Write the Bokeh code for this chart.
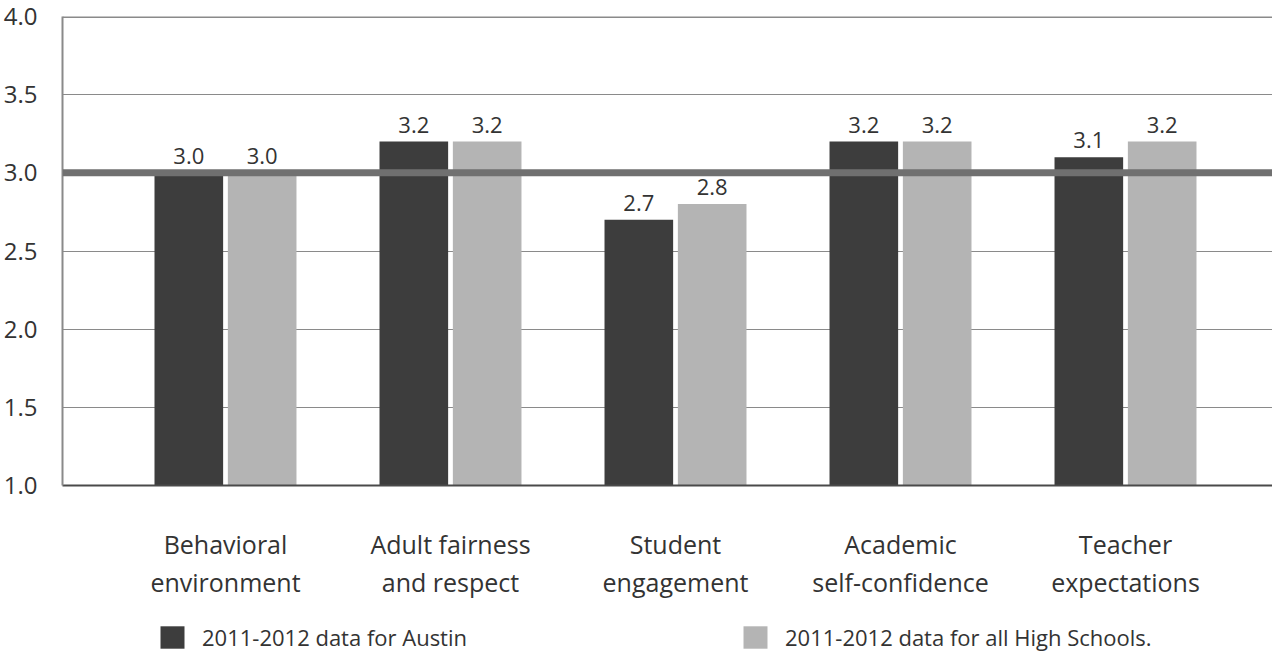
import numpy as np
from bokeh.plotting import figure
from bokeh.layouts import column
from bokeh.models import (ColumnDataSource, FixedTicker, Span, Legend, LegendItem,
                          NumeralTickFormatter)
from bokeh.core.properties import value
from bokeh.transform import dodge
from bokeh.embed import file_html
from bokeh.resources import INLINE

categories = ["Behavioral\nenvironment", "Adult fairness\nand respect", "Student\nengagement",
              "Academic\nself-confidence", "Teacher\nexpectations"]
austin = [3.0, 3.2, 2.7, 3.2, 3.1]
all_hs = [3.0, 3.2, 2.8, 3.2, 3.2]
austin_labels = ["3.0", "3.2", "2.7", "3.2", "3.1"]
all_hs_labels = ["3.0", "3.2", "2.8", "3.2", "3.2"]
y_ticks = [1.0, 1.5, 2.0, 2.5, 3.0, 3.5, 4.0]
reference_value = 3.0
series_names = ["2011-2012 data for Austin", "2011-2012 data for all High Schools."]

FONT = "Open Sans"
DARK = "#3d3d3d"
LIGHT = "#b4b4b4"
TXT = "#333333"

idx = list(range(len(categories)))
src = ColumnDataSource(dict(x=idx, austin=austin, all_hs=all_hs,
                            al=austin_labels, hl=all_hs_labels))

p = figure(frame_width=1210, frame_height=469, output_backend="svg", toolbar_location=None,
           x_range=(-0.7244, 4.6533), y_range=(1.0, 4.0),
           min_border_left=62, min_border_top=16, min_border_right=0, min_border_bottom=135)

off = 0.163
bw = 0.305
r1 = p.vbar(x=dodge("x", -off), top="austin", bottom=1.0, width=bw, source=src,
            fill_color=DARK, line_color=None)
r2 = p.vbar(x=dodge("x", off), top="all_hs", bottom=1.0, width=bw, source=src,
            fill_color=LIGHT, line_color=None)

p.text(x=dodge("x", -off), y="austin", text="al", source=src, text_align="center",
       text_baseline="bottom", y_offset=-9, text_font=value(FONT), text_font_size="22px",
       text_color=TXT)
p.text(x=dodge("x", off), y="all_hs", text="hl", source=src, text_align="center",
       text_baseline="bottom", y_offset=-9, text_font=value(FONT), text_font_size="22px",
       text_color=TXT)

p.add_layout(Span(location=reference_value, dimension="width", line_color="#707070",
                  line_width=7, level="overlay"))
p.add_layout(Span(location=y_ticks[-1], dimension="width", line_color="#8a8a8a",
                  line_width=3))

# axes
p.yaxis.ticker = FixedTicker(ticks=y_ticks)
p.yaxis.formatter = NumeralTickFormatter(format="0.0")
p.yaxis.major_label_text_font = FONT
p.yaxis.major_label_text_font_size = "24px"
p.yaxis.major_label_text_color = TXT
p.yaxis.axis_line_color = "#8a8a8a"
p.yaxis.axis_line_width = 2
p.yaxis.major_tick_line_color = None
p.yaxis.minor_tick_line_color = None
p.yaxis.major_label_standoff = 19

p.xaxis.ticker = FixedTicker(ticks=idx)
p.xaxis.major_label_overrides = {i: c for i, c in zip(idx, categories)}
p.xaxis.major_label_text_font = FONT
p.xaxis.major_label_text_font_size = "25px"
p.xaxis.major_label_text_color = TXT
p.xaxis.major_label_text_line_height = 1.12
p.xaxis.axis_line_color = "#4a4a4a"
p.xaxis.axis_line_width = 2
p.xaxis.major_tick_line_color = None
p.xaxis.minor_tick_line_color = None
p.xaxis.major_label_standoff = 35

p.xgrid.grid_line_color = None
p.ygrid.ticker = FixedTicker(ticks=y_ticks[1:-1])
p.ygrid.grid_line_color = "#8a8a8a"
p.ygrid.grid_line_width = 1

p.outline_line_color = None
p.background_fill_color = "white"
p.border_fill_color = "white"

# legend strip below the chart
lg = figure(width=1272, height=36, output_backend="svg", toolbar_location=None,
            x_range=(100, 101), y_range=(100, 101), x_axis_type=None, y_axis_type=None,
            min_border=0)
lr1 = lg.vbar(x=dodge("x", -off), top="austin", bottom=1.0, width=bw, source=src,
              fill_color=DARK, line_color=None)
lr2 = lg.vbar(x=dodge("x", off), top="all_hs", bottom=1.0, width=bw, source=src,
              fill_color=LIGHT, line_color=None)
lg.xgrid.grid_line_color = None
lg.ygrid.grid_line_color = None
lg.outline_line_color = None
legend = Legend(items=[LegendItem(label=series_names[0], renderers=[lr1]),
                       LegendItem(label=series_names[1], renderers=[lr2])],
                orientation="horizontal", location=(95, 4),
                glyph_width=30, glyph_height=28, label_standoff=15,
                label_width=538, spacing=0, padding=0, margin=0,
                label_text_font=FONT, label_text_font_size="22px",
                label_text_color=TXT, border_line_color=None,
                background_fill_alpha=0)
lg.add_layout(legend, "center")

layout = column(p, lg, spacing=0)
open("out.html", "w").write(file_html(layout, INLINE))
